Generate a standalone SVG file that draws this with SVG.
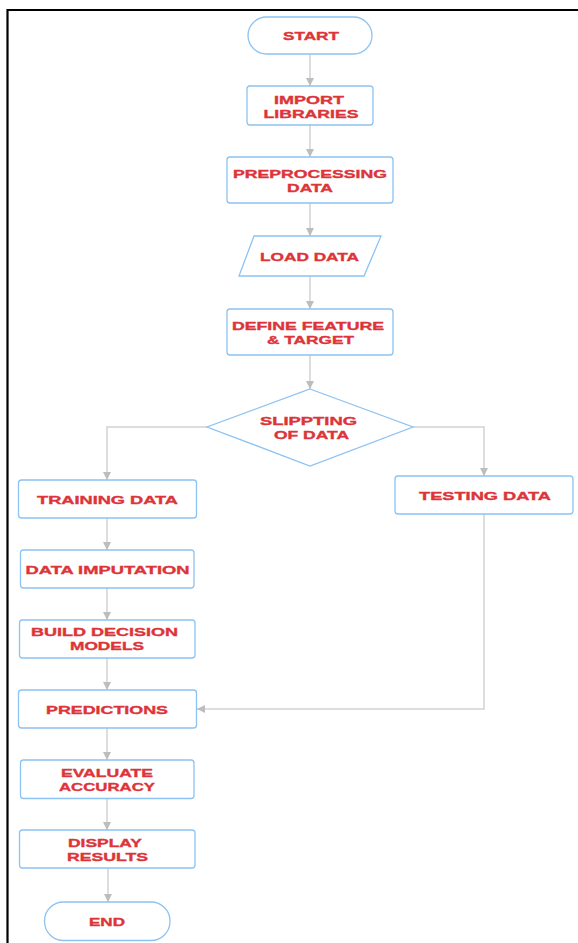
<svg xmlns="http://www.w3.org/2000/svg" width="578" height="943" viewBox="0 0 578 943">
<style>
.n{fill:#fff;stroke:#8cc3f2;stroke-width:1.3}
.t{font-family:"Liberation Sans",Arial,sans-serif;font-weight:bold;font-size:11.5px;fill:#dc3439;stroke:#dc3439;stroke-width:0.35;text-anchor:middle}
.c{fill:none;stroke:#d2d2d2;stroke-width:1.5}
</style>
<defs>
<marker id="ah" markerUnits="userSpaceOnUse" markerWidth="8" markerHeight="8" refX="8" refY="4" orient="auto">
<path d="M0,0 L8,4 L0,8 z" fill="#bdbdbd"/>
</marker>
</defs>
<rect x="0" y="0" width="578" height="943" fill="#fff"/>
<path d="M7.5,943 V10 H578" fill="none" stroke="#000" stroke-width="2.2"/>
<g id="connectors">
<path class="c" marker-end="url(#ah)" d="M310,54 V86"/>
<path class="c" marker-end="url(#ah)" d="M310,125 V157"/>
<path class="c" marker-end="url(#ah)" d="M310,203 V236"/>
<path class="c" marker-end="url(#ah)" d="M310,276 V309"/>
<path class="c" marker-end="url(#ah)" d="M310,355 V389"/>
<path class="c" marker-end="url(#ah)" d="M207,427 H107 V480"/>
<path class="c" marker-end="url(#ah)" d="M413,427 H484 V476"/>
<path class="c" marker-end="url(#ah)" d="M107,518 V550"/>
<path class="c" marker-end="url(#ah)" d="M107,588 V620"/>
<path class="c" marker-end="url(#ah)" d="M107,658 V690"/>
<path class="c" marker-end="url(#ah)" d="M107,728 V760"/>
<path class="c" marker-end="url(#ah)" d="M107,798 V830"/>
<path class="c" marker-end="url(#ah)" d="M108,868 V902"/>
<path class="c" marker-end="url(#ah)" d="M484,514 V709 H197"/>
</g>
<g id="start">
<rect class="n" x="248" y="17" width="124" height="37" rx="18.5"/>
<text class="t" x="311" y="40" textLength="56" lengthAdjust="spacingAndGlyphs">START</text>
</g>
<g id="import">
<rect class="n" x="247" y="86" width="126" height="39" rx="3"/>
<text class="t" x="309" y="103.5" textLength="70" lengthAdjust="spacingAndGlyphs">IMPORT</text>
<text class="t" x="311" y="117.5" textLength="95" lengthAdjust="spacingAndGlyphs">LIBRARIES</text>
</g>
<g id="preprocessing">
<rect class="n" x="227" y="157" width="166" height="46" rx="3"/>
<text class="t" x="310" y="177.5" textLength="154" lengthAdjust="spacingAndGlyphs">PREPROCESSING</text>
<text class="t" x="310" y="191.5" textLength="46" lengthAdjust="spacingAndGlyphs">DATA</text>
</g>
<g id="load">
<polygon class="n" points="254,236 381,236 364,276 239,276"/>
<text class="t" x="309.5" y="260.5" textLength="99" lengthAdjust="spacingAndGlyphs">LOAD DATA</text>
</g>
<g id="define">
<rect class="n" x="227" y="309" width="166" height="46" rx="3"/>
<text class="t" x="308" y="329.5" textLength="152" lengthAdjust="spacingAndGlyphs">DEFINE FEATURE</text>
<text class="t" x="310.5" y="344" textLength="87" lengthAdjust="spacingAndGlyphs">&amp; TARGET</text>
</g>
<g id="split">
<polygon class="n" points="310,389 413,427 310,466 207,427"/>
<text class="t" x="308.5" y="425" textLength="97" lengthAdjust="spacingAndGlyphs">SLIPPTING</text>
<text class="t" x="311.5" y="438.5" textLength="75" lengthAdjust="spacingAndGlyphs">OF DATA</text>
</g>
<g id="training">
<rect class="n" x="18.5" y="480" width="178" height="38" rx="3"/>
<text class="t" x="107.5" y="503.5" textLength="141" lengthAdjust="spacingAndGlyphs">TRAINING DATA</text>
</g>
<g id="testing">
<rect class="n" x="395" y="476" width="178" height="38" rx="3"/>
<text class="t" x="485" y="499.5" textLength="132" lengthAdjust="spacingAndGlyphs">TESTING DATA</text>
</g>
<g id="imputation">
<rect class="n" x="20.5" y="550" width="173.5" height="38" rx="3"/>
<text class="t" x="107.5" y="574" textLength="164" lengthAdjust="spacingAndGlyphs">DATA IMPUTATION</text>
</g>
<g id="build">
<rect class="n" x="19.5" y="620" width="175.5" height="38" rx="3"/>
<text class="t" x="104.5" y="636" textLength="147" lengthAdjust="spacingAndGlyphs">BUILD DECISION</text>
<text class="t" x="107" y="650" textLength="74" lengthAdjust="spacingAndGlyphs">MODELS</text>
</g>
<g id="predictions">
<rect class="n" x="18.5" y="690" width="178" height="38" rx="3"/>
<text class="t" x="107" y="713.5" textLength="122" lengthAdjust="spacingAndGlyphs">PREDICTIONS</text>
</g>
<g id="evaluate">
<rect class="n" x="20.5" y="760" width="173.5" height="38.5" rx="3"/>
<text class="t" x="107" y="776.5" textLength="92" lengthAdjust="spacingAndGlyphs">EVALUATE</text>
<text class="t" x="107" y="790.5" textLength="96" lengthAdjust="spacingAndGlyphs">ACCURACY</text>
</g>
<g id="display">
<rect class="n" x="19.5" y="830" width="175.5" height="38" rx="3"/>
<text class="t" x="105" y="846.5" textLength="74" lengthAdjust="spacingAndGlyphs">DISPLAY</text>
<text class="t" x="107.5" y="860.5" textLength="81" lengthAdjust="spacingAndGlyphs">RESULTS</text>
</g>
<g id="end">
<rect class="n" x="44.5" y="902" width="125.5" height="38.5" rx="19"/>
<text class="t" x="107" y="925.5" textLength="36" lengthAdjust="spacingAndGlyphs">END</text>
</g>
</svg>
